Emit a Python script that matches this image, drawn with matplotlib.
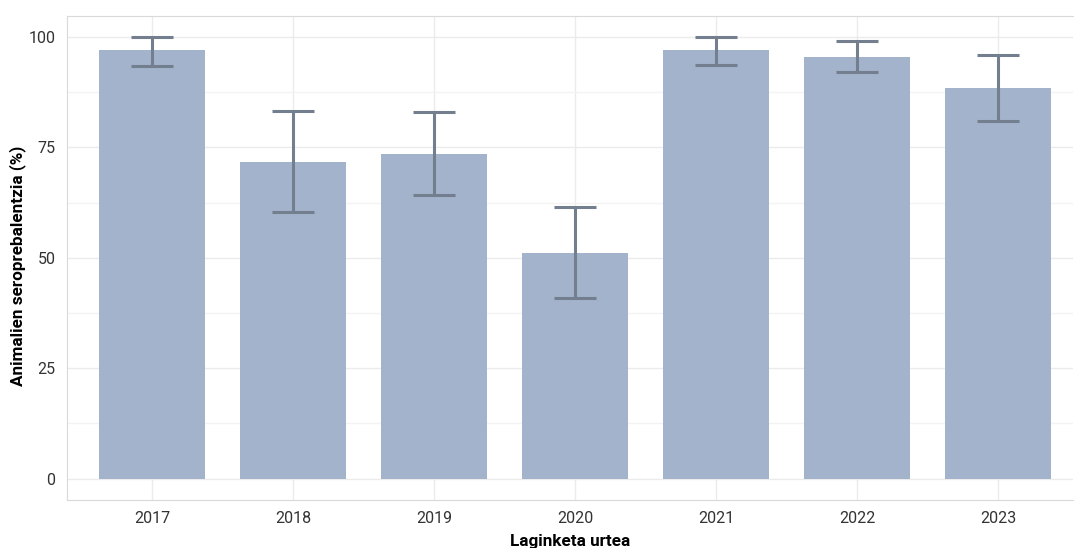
import numpy as np
import matplotlib.pyplot as plt
from matplotlib.ticker import MultipleLocator

# -----------------------------
# DATA
# -----------------------------
years = ["2017", "2018", "2019", "2020", "2021", "2022", "2023"]
prevalence = [97.1, 71.8, 73.6, 51.2, 97.1, 95.5, 88.5]
ci_low = [93.4, 60.4, 64.2, 40.9, 93.7, 92.1, 81.1]
ci_high = [100.0, 83.3, 83.0, 61.6, 100.0, 99.0, 95.9]

plt.rcParams['font.family'] = ['Roboto', 'DejaVu Sans']

# -----------------------------
# PLOT
# -----------------------------
fig = plt.figure(figsize=(10.74, 5.48), dpi=100)
ax = fig.add_axes([0.062, 0.088, 0.937, 0.883])

x = np.arange(len(years))
vals = np.array(prevalence)
yerr = [vals - np.array(ci_low), np.array(ci_high) - vals]

ax.bar(x, vals, width=0.75, color='#a3b3cb', zorder=2)
ax.errorbar(x, vals, yerr=yerr, fmt='none', ecolor='#737f8f',
            elinewidth=2.2, capsize=15, capthick=2.2, zorder=3)

ax.set_xlim(-0.605, 6.53)
ax.set_ylim(-4.8, 104.8)
ax.set_xticks(x)
ax.set_xticklabels(years)
ax.yaxis.set_major_locator(MultipleLocator(25))
ax.yaxis.set_minor_locator(MultipleLocator(12.5))

ax.grid(True, which='major', color='#ebebeb', linewidth=1.0, zorder=0)
ax.grid(True, which='minor', axis='y', color='#f3f3f3', linewidth=1.0, zorder=0)
ax.set_axisbelow(True)

for side in ['left', 'bottom', 'top']:
    ax.spines[side].set_color('#d9d9d9')
ax.spines['right'].set_visible(False)

ax.tick_params(axis='both', which='both', length=0, labelsize=11.5,
               labelcolor='#333333', pad=8)

ax.set_xlabel("Laginketa urtea", fontsize=12.3, fontweight='bold', labelpad=6)
ax.set_ylabel("Animalien seroprebalentzia (%)", fontsize=12.3, fontweight='bold')
ax.yaxis.set_label_coords(-0.04, 0.483)

fig.savefig("out.png", dpi=100)
